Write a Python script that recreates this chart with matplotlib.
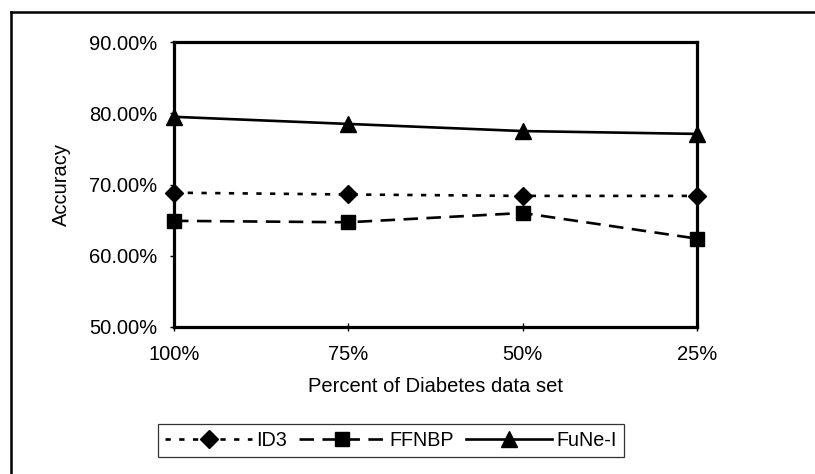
#!/usr/bin/env python3
"""绘制不同比例 Diabetes 数据集下三种方法的准确率折线图。"""

from __future__ import annotations

import matplotlib

matplotlib.use("Agg")
import matplotlib.pyplot as plt
from matplotlib.lines import Line2D

CATEGORIES = ["100%", "75%", "50%", "25%"]
ID3 = [68.85, 68.6, 68.4, 68.4]
FFNBP = [64.9, 64.7, 66.0, 62.4]
FUNE_I = [79.5, 78.5, 77.5, 77.1]
Y_TICKS = [50, 60, 70, 80, 90]


def main() -> None:
    plt.rcParams["font.family"] = ["Liberation Sans", "DejaVu Sans"]
    plt.rcParams["font.size"] = 14

    fig = plt.figure(figsize=(8.15, 4.74), dpi=100)
    ax = fig.add_axes([174 / 815, 147 / 474, 523 / 815, 285 / 474])

    x = list(range(len(CATEGORIES)))
    common = dict(color="black", lw=1.9, clip_on=False, zorder=3)
    ax.plot(x, ID3, marker="D", ms=9.5, dashes=(2.0, 3.2), label="ID3", **common)
    ax.plot(x, FFNBP, marker="s", ms=10.5, dashes=(5.5, 3.2), label="FFNBP", **common)
    ax.plot(x, FUNE_I, marker="^", ms=11.5, ls="-", label="FuNe-I", **common)

    ax.set_xlim(0, len(CATEGORIES) - 1)
    ax.set_ylim(Y_TICKS[0], Y_TICKS[-1])
    ax.set_xticks(x)
    ax.set_xticklabels(CATEGORIES)
    ax.set_yticks(Y_TICKS)
    ax.set_yticklabels([f"{v:.2f}%" for v in Y_TICKS])
    ax.tick_params(axis="x", direction="inout", length=6, width=1, pad=10, labelsize=14.5)
    ax.tick_params(axis="y", direction="out", length=3, width=1, pad=9, labelsize=14.5)
    for s in ax.spines.values():
        s.set_linewidth(2.3)

    ax.set_xlabel("Percent of Diabetes data set", fontsize=14.5, labelpad=9)
    ax.set_ylabel("Accuracy", fontsize=14.5, labelpad=13)

    # 图例单行放在下方，带细边框
    leg = fig.legend(
        loc="center",
        bbox_to_anchor=(391 / 815, 1 - 440.5 / 474),
        ncol=3,
        numpoints=1,
        handlelength=4.4,
        handletextpad=0.2,
        columnspacing=0.6,
        borderpad=0.35,
        fontsize=14.2,
        frameon=True,
        fancybox=False,
        edgecolor="black",
    )
    leg.get_frame().set_linewidth(0.9)

    # 外框只露出上边和左边
    fig.add_artist(Line2D([11 / 815, 1.0], [1 - 12 / 474] * 2, color="black", lw=1.8))
    fig.add_artist(Line2D([11 / 815] * 2, [0.0, 1 - 12 / 474], color="black", lw=1.8))

    fig.savefig("out.png", dpi=100, facecolor="white")


if __name__ == "__main__":
    main()
